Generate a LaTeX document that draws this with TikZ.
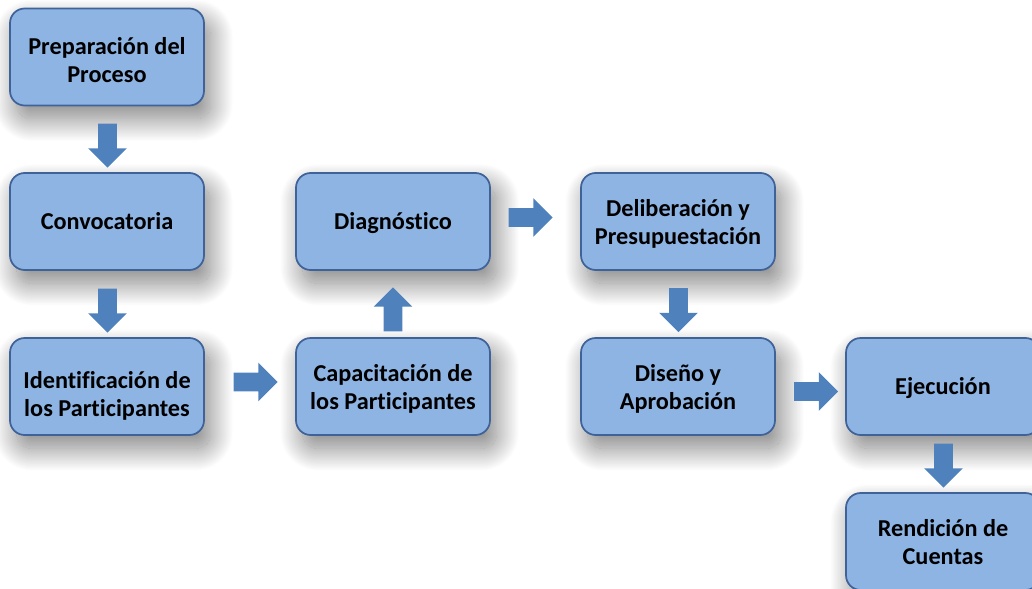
\documentclass[tikz,border=0pt]{standalone}
\usepackage{fontspec}
\setmainfont{Carlito}[Ligatures=NoCommon]
\usetikzlibrary{shapes.arrows,shadows.blur}
\definecolor{boxfill}{HTML}{8EB4E3}
\definecolor{boxline}{HTML}{3F6399}
\definecolor{arrowblue}{HTML}{4F81BD}
\newcommand{\oneline}[1]{\rule[-3.4pt]{0pt}{19.3pt}\smash{#1}}
\newcommand{\twolines}[3][3.5pt]{\rule[-#1]{0pt}{20.5pt}\smash{#2}\\\rule[-#1]{0pt}{20.5pt}\smash{#3}}
\tikzset{
  stagebox/.style={draw=boxline, line width=1.3pt, fill=boxfill, rounded corners=11pt,
    minimum width=145.5pt, minimum height=72.75pt, align=center, inner sep=0pt,
    font=\fontsize{18.2pt}{21pt}\selectfont\bfseries,
    blur shadow={shadow xshift=5pt, shadow yshift=-10pt, shadow blur radius=17pt,
      shadow opacity=50, shadow blur steps=40}},
  blockarrow/.style={shape=single arrow, fill=arrowblue, draw=none, inner sep=6.9pt,
    minimum height=33pt, minimum width=0pt, single arrow head extend=7.4pt},
  downarrow/.style={blockarrow, shape border rotate=270},
  uparrow/.style={blockarrow, shape border rotate=90},
  rightarrow/.style={blockarrow, shape border rotate=0}
}
\begin{document}
\begin{tikzpicture}[x=0.75pt,y=-0.75pt]
\useasboundingbox (0,0) rectangle (1032,589);
\node[stagebox] (prep) at (107,57) {\twolines[1.6pt]{Preparación del}{Proceso}};
\node[stagebox] (conv) at (107,221.5) {\oneline{Convocatoria}};
\node[stagebox] (ident) at (107,386.5) {\rule{0pt}{24pt}\smash{Identificación de}\\\smash{los Participantes}};
\node[stagebox] (capac) at (393,386.5) {\twolines{Capacitación de}{los Participantes}};
\node[stagebox] (diag) at (393,221.5) {\oneline{Diagnóstico}};
\node[stagebox] (delib) at (678,221.5) {\twolines{Deliberación y}{Presupuestación}};
\node[stagebox] (diseno) at (678,386.5) {\twolines{Diseño y}{Aprobación}};
\node[stagebox] (ejec) at (943,386.5) {\oneline{Ejecución}};
\node[stagebox] (rend) at (943,541.5) {\twolines{Rendición de}{Cuentas}};
\node[downarrow] (a1) at (107.5,141) {};
\node[downarrow] (a2) at (107.5,306) {};
\node[rightarrow] (a3) at (251,382) {};
\node[uparrow] (a4) at (393,314) {};
\node[rightarrow] (a5) at (526,217.5) {};
\node[downarrow] (a6) at (678.5,305.5) {};
\node[rightarrow] (a7) at (811.5,391.5) {};
\node[downarrow] (a8) at (943.5,461) {};
\end{tikzpicture}
\end{document}
